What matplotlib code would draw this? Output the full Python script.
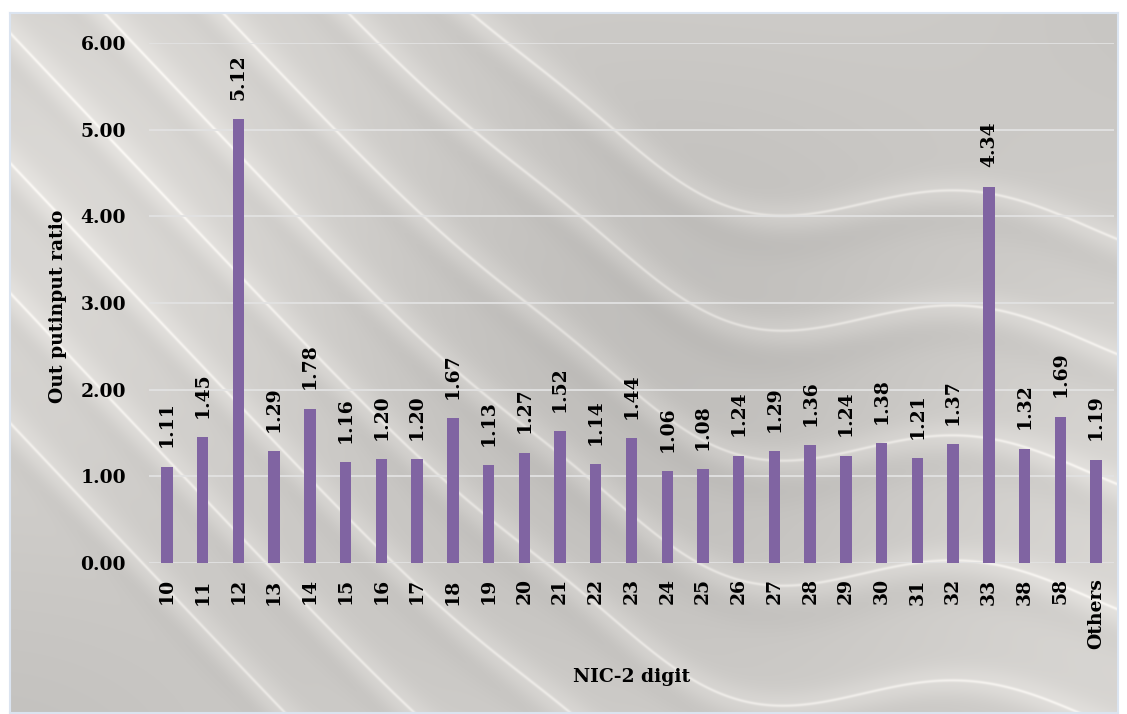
import numpy as np
import matplotlib
matplotlib.use("Agg")
import matplotlib.pyplot as plt

categories = ["10", "11", "12", "13", "14", "15", "16", "17", "18", "19", "20",
              "21", "22", "23", "24", "25", "26", "27", "28", "29", "30", "31",
              "32", "33", "38", "58", "Others"]
ratios = [1.11, 1.45, 5.12, 1.29, 1.78, 1.16, 1.20, 1.20, 1.67, 1.13, 1.27,
          1.52, 1.14, 1.44, 1.06, 1.08, 1.24, 1.29, 1.36, 1.24, 1.38, 1.21,
          1.37, 4.34, 1.32, 1.69, 1.19]
yticks = [0, 1, 2, 3, 4, 5, 6]

plt.rcParams['font.family'] = ['DejaVu Serif']
FS = 13.5

W, H = 1127, 714
fig = plt.figure(figsize=(W / 100, H / 100), dpi=100)

# Satin-like backdrop: grey base with thin light folds
bw, bh = 1108, 700
bg_ax = fig.add_axes([10 / W, 1 / H, bw / W, bh / H])
py, px = np.mgrid[0:bh, 0:bw].astype(float)
lum = (0.805 + 0.03 * np.sin(px / 260 + py / 200 + 0.5)
       + 0.02 * np.cos(px / 150 - py / 310))

c, w, k = 620.0, 90.0, 1.0
z = (c - px) / w
softplus = np.logaddexp(0, z)
sig = 1 / (1 + np.exp(-z))
ramp = 1 / (1 + np.exp(-(px - 560) / 60))
wave = 28 * np.sin(2 * np.pi * (px - 600) / 480) * ramp
wave_d = 28 * 2 * np.pi / 480 * np.cos(2 * np.pi * (px - 600) / 480) * ramp
for y0 in [150, 265, 395, 520, 640, 770, 900, 1030]:
    f = y0 - k * w * softplus + wave + 0.06 * px
    fp = k * sig + wave_d + 0.06
    d = np.abs(py - f) / np.sqrt(1 + fp ** 2)
    lum = lum + 0.085 * np.exp(-(d / 1.5) ** 2) + 0.045 * np.exp(-(d / 16) ** 2)
    # faint shadow just below each fold
    lum = lum - 0.02 * np.exp(-((py - f - 30) / 18) ** 2)

lum = np.clip(lum, 0, 1)
rgb = np.dstack([lum, lum * 0.99, lum * 0.975])
bg_ax.imshow(rgb, aspect="auto", extent=[0, 1, 0, 1], interpolation="bilinear")
bg_ax.set_xlim(0, 1)
bg_ax.set_ylim(0, 1)
bg_ax.set_xticks([])
bg_ax.set_yticks([])
for s in bg_ax.spines.values():
    s.set_color("#dbe4f0")
    s.set_linewidth(1.5)

ax = fig.add_axes([149 / W, (H - 563) / H, (1114 - 149) / W, (563 - 43) / H])
ax.patch.set_alpha(0)
x = np.arange(len(categories))
ax.bar(x, ratios, width=0.32, color="#8064a2", zorder=3)
ax.set_xlim(-0.5, len(categories) - 0.5)
ax.set_ylim(0, 6)
ax.set_yticks(yticks)
ax.set_yticklabels([f"{v:.2f}" for v in yticks], fontsize=FS, fontweight="bold")
ax.set_xticks(x)
ax.set_xticklabels(categories, rotation=90, fontsize=FS, fontweight="bold")
ax.tick_params(axis="y", length=0, pad=16.5)
ax.tick_params(axis="x", length=0, pad=11)
ax.yaxis.grid(True, color="#e2e2e2", linewidth=1.3, zorder=0)
for s in ax.spines.values():
    s.set_visible(False)

for xi, v in zip(x, ratios):
    ax.annotate(f"{v:.2f}", (xi, v), xytext=(0, 14), textcoords="offset points",
                rotation=90, ha="center", va="bottom",
                fontsize=FS, fontweight="bold")

fig.text(58 / W, 1 - 306 / H, "Out putinput ratio", rotation=90, ha="center",
         va="center", fontsize=FS, fontweight="bold")
fig.text(632 / W, 1 - 677 / H, "NIC-2 digit", ha="center", va="center",
         fontsize=FS, fontweight="bold")

fig.savefig("out.png", dpi=100)
